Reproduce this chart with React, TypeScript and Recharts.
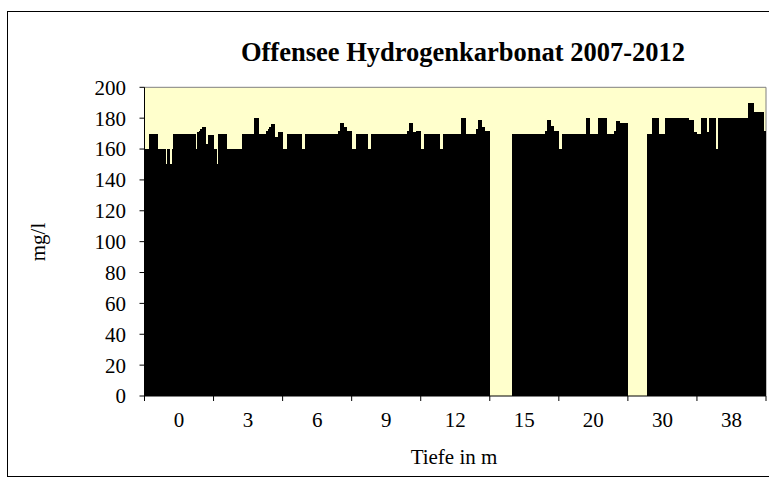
import React from 'react';
import { BarChart, Bar, XAxis, YAxis, CartesianGrid } from 'recharts';

// Depth categories (m)
const DEPTHS = ['0', '3', '6', '9', '12', '15', '20', '30', '38'];
const Y_TICKS = [0, 20, 40, 60, 80, 100, 120, 140, 160, 180, 200];

// HCO3 (mg/l) per sampling date, one array per depth, 46 sampling dates 2007-2012
const hco3_0m = [
  160, 160, 160, 170, 170, 170, 170, 170, 170, 160,
  160, 160, 160, 160, 150, 160, 160, 150, 160, 170,
  170, 170, 170, 170, 170, 170, 170, 170, 170, 170,
  170, 170, 170, 170, 160, 171, 172, 173, 174, 174,
  174, 163, 169, 169, 169, 169,
];
const hco3_3m = [
  160, 160, 150, 170, 170, 170, 170, 170, 170, 160,
  160, 160, 160, 160, 160, 160, 160, 160, 160, 170,
  170, 170, 170, 170, 170, 170, 170, 180, 180, 180,
  170, 170, 170, 170, 170, 172, 173, 174, 176, 176,
  176, 168, 168, 171, 171, 171,
];
const hco3_6m = [
  160, 160, 160, 170, 170, 170, 170, 170, 170, 170,
  170, 170, 170, 160, 160, 170, 170, 170, 170, 170,
  170, 170, 170, 170, 170, 170, 170, 170, 170, 170,
  170, 170, 170, 170, 170, 170, 170, 172, 177, 177,
  177, 174, 174, 172, 172, 172,
];
const hco3_9m = [
  160, 160, 160, 170, 170, 170, 170, 170, 170, 170,
  170, 160, 160, 170, 170, 170, 170, 170, 170, 170,
  170, 170, 170, 170, 170, 170, 170, 170, 170, 170,
  170, 170, 170, 170, 170, 170, 170, 172, 177, 177,
  177, 171, 171, 172, 172, 172,
];
const hco3_12m = [
  160, 160, 170, 170, 170, 170, 170, 170, 170, 170,
  170, 170, 170, 160, 160, 170, 170, 170, 170, 170,
  170, 170, 170, 170, 170, 170, 170, 180, 180, 180,
  170, 170, 170, 170, 170, 170, 170, 173, 179, 179,
  179, 174, 174, 172, 172, 172,
];
const hco3_15m = [
  null, null, null, null, null, null, null, null, null, null,
  null, null, null, null, null, 170, 170, 170, 170, 170,
  170, 170, 170, 170, 170, 170, 170, 170, 170, 170,
  170, 170, 170, 170, 170, 170, 170, 172, 179, 179,
  179, 175, 175, 172, 172, 172,
];
const hco3_20m = [
  160, 160, 170, 170, 170, 170, 170, 170, 170, 170,
  170, 170, 170, 170, 170, 170, 170, 170, 180, 180,
  180, 170, 170, 170, 170, 170, 180, 180, 180, 180,
  180, 180, 170, 170, 170, 170, 170, 172, 178, 178,
  178, 177, 177, 177, 177, 177,
];
const hco3_30m = [
  null, null, null, null, null, null, null, null, null, null,
  null, null, null, 170, 170, 170, 180, 180, 180, 180,
  180, 170, 170, 170, 170, 180, 180, 180, 180, 180,
  180, 180, 180, 180, 180, 180, 180, 180, 180, 180,
  180, 179, 179, 179, 171, 171,
];
const hco3_38m = [
  170, 170, 170, 180, 180, 180, 180, 171, 180, 180,
  180, 180, 180, 160, 180, 180, 180, 180, 180, 180,
  180, 180, 180, 180, 180, 180, 180, 180, 180, 180,
  180, 180, 180, 180, 190, 190, 190, 190, 184, 184,
  184, 184, 184, 184, 184, 172,
];

const BY_DEPTH = [hco3_0m, hco3_3m, hco3_6m, hco3_9m, hco3_12m, hco3_15m, hco3_20m, hco3_30m, hco3_38m];
const SERIES_KEYS = hco3_0m.map((_, i) => `s${i}`);

const ROWS = DEPTHS.map((depth, ci) => {
  const row: Record<string, any> = { depth };
  BY_DEPTH[ci].forEach((v, si) => {
    row[`s${si}`] = v;
  });
  return row;
});

// Layout
const W = 769;
const H = 480;
const PLOT_LEFT = 144.5;
const PLOT_RIGHT = 766;
const PLOT_TOP = 87.3;
const PLOT_BOTTOM = 396;
const BAND = (PLOT_RIGHT - PLOT_LEFT) / DEPTHS.length;
const BAR_W = 1.5;
const FONT = "'Liberation Serif', 'Times New Roman', serif";

const XTick = (props: any) => {
  const { x, y, payload, index } = props;
  const half = typeof payload?.offset === 'number' && payload.offset > 0 ? payload.offset : BAND / 2;
  const isLast = index === DEPTHS.length - 1;
  return (
    <g>
      <line x1={x - half} y1={y} x2={x - half} y2={y + 5} stroke="#000" strokeWidth={1} />
      {isLast && <line x1={x + half} y1={y} x2={x + half} y2={y + 5} stroke="#000" strokeWidth={1} />}
      <text x={x} y={y + 30.5} textAnchor="middle" fontFamily={FONT} fontSize={21} fill="#000">
        {payload.value}
      </text>
    </g>
  );
};

export default function App() {
  return (
    <div style={{ position: 'absolute', left: 0, top: 0, width: W, height: H, background: '#fff' }}>
      <BarChart
        width={W}
        height={H}
        data={ROWS}
        margin={{ top: PLOT_TOP, right: W - PLOT_RIGHT, bottom: 0, left: 0 }}
        barGap={0}
        barCategoryGap={0}
        barSize={BAR_W}
      >
        <CartesianGrid
          fill="#FFFFCC"
          fillOpacity={1}
          stroke="#808080"
          horizontalPoints={[PLOT_TOP]}
          verticalPoints={[PLOT_RIGHT]}
        />
        <XAxis
          dataKey="depth"
          type="category"
          height={H - PLOT_BOTTOM}
          interval={0}
          tickSize={0}
          tickMargin={0}
          tickLine={false}
          axisLine={{ stroke: '#000', strokeWidth: 1 }}
          tick={(p: any) => <XTick {...p} />}
        />
        <YAxis
          type="number"
          domain={[0, 200]}
          ticks={Y_TICKS}
          interval={0}
          width={PLOT_LEFT}
          tickSize={5}
          tickMargin={13.5}
          axisLine={{ stroke: '#000', strokeWidth: 1 }}
          tickLine={{ stroke: '#000', strokeWidth: 1 }}
          tick={{ fill: '#000', fontSize: 21, fontFamily: FONT }}
        />
        {SERIES_KEYS.map((k) => (
          <Bar
            key={k}
            dataKey={k}
            fill="#000000"
            barSize={BAR_W}
            isAnimationActive={false}
            shapeRendering="crispEdges"
          />
        ))}
      </BarChart>
      <svg
        width={W}
        height={H}
        style={{ position: 'absolute', left: 0, top: 0, pointerEvents: 'none' }}
      >
        <rect x={7.5} y={11.5} width={800} height={465} fill="none" stroke="#000" strokeWidth={1} />
        <text x={463} y={61} textAnchor="middle" fontFamily={FONT} fontWeight="bold" fontSize={26.5} fill="#000">
          Offensee Hydrogenkarbonat 2007-2012
        </text>
        <text
          transform="translate(45,242) rotate(-90)"
          textAnchor="middle"
          fontFamily={FONT}
          fontSize={21}
          fill="#000"
        >
          mg/l
        </text>
        <text x={454} y={464} textAnchor="middle" fontFamily={FONT} fontSize={21} fill="#000">
          Tiefe in m
        </text>
      </svg>
    </div>
  );
}
